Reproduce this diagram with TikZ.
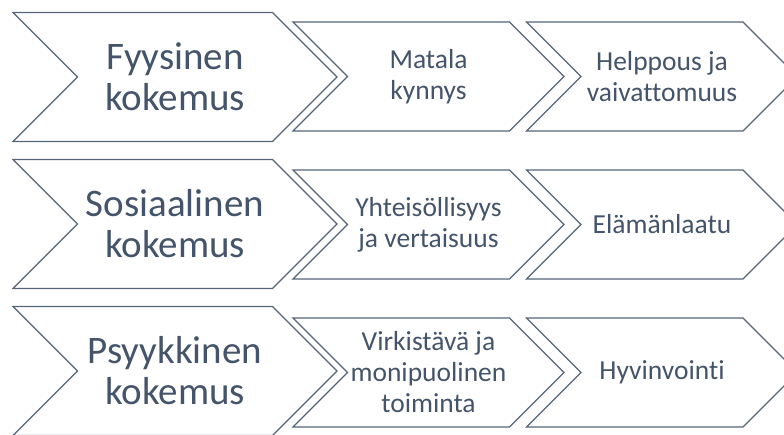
\documentclass[tikz,border=0pt]{standalone}
\usepackage{fontspec}
\setmainfont{Carlito}[Ligatures={NoCommon}]
\usetikzlibrary{shapes.symbols}
\definecolor{slate}{HTML}{44546A}
\definecolor{edgegrey}{HTML}{56657A}

\begin{document}
\begin{tikzpicture}[x=1pt, y=-1pt,
    chev/.style={signal, signal from=west, signal to=east, signal pointer angle=90,
      draw=edgegrey, line width=1.3pt, fill=white, text=slate, align=center, inner sep=0pt},
    big/.style={chev, minimum width=324pt, minimum height=129pt, font=\fontsize{39}{41}\selectfont},
    small/.style={chev, minimum width=271pt, minimum height=109pt, font=\fontsize{27.5}{31}\selectfont}]
    \useasboundingbox (0,0) rectangle (784,434);
    \clip (0,0) rectangle (784,434);

    % row 1
    \node (fyys)[big] at (175, 77) {Fyysinen\\kokemus};
    \node (matala)[small] at (428.5, 76.5) {Matala\\kynnys};
    \node (helppous)[small] at (662, 76.5) {Helppous ja\\vaivattomuus};

    % row 2
    \node (sos)[big] at (175, 224) {Sosiaalinen\\kokemus};
    \node (yht)[small] at (428.5, 224.5) {Yhteisöllisyys\\ja vertaisuus};
    \node (elama)[small] at (662, 224.5) {Elämänlaatu};

    % row 3
    \node (psyyk)[big] at (175, 371) {Psyykkinen\\kokemus};
    \node (virk)[small] at (428.5, 372.5) {Virkistävä ja\\monipuolinen\\toiminta};
    \node (hyvin)[small] at (662, 372.5) {Hyvinvointi};
\end{tikzpicture}
\end{document}
